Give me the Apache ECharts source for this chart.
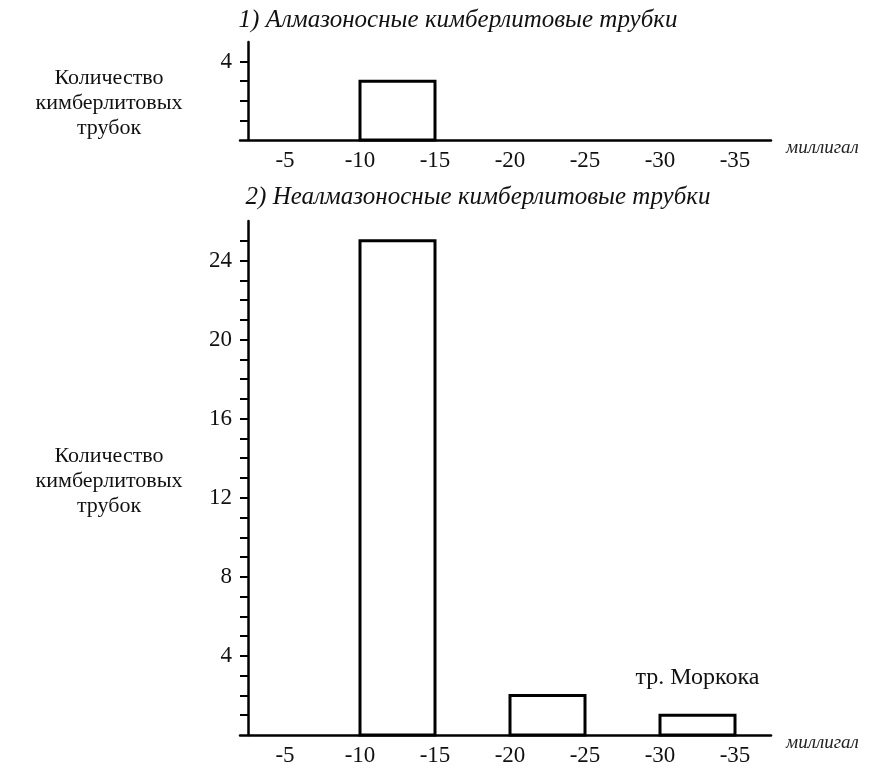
<!DOCTYPE html>
<html>
<head>
<meta charset="utf-8">
<script src="https://cdn.jsdelivr.net/npm/echarts@6/dist/echarts.min.js"></script>
<style>
  html, body { margin: 0; padding: 0; background: #fff; }
  #chart { width: 869px; height: 772px; }
</style>
</head>
<body>
<div id="chart"></div>
<script>
// Gravity anomaly bins (milligal) and pipe counts
const xTickValues = [-5, -10, -15, -20, -25, -30, -35];

const diamondBinStart = [-10];
const diamondBinEnd = [-15];
const diamondCounts = [3];

const barrenBinStart = [-10, -20, -30];
const barrenBinEnd = [-15, -25, -35];
const barrenCounts = [25, 2, 1];
const barrenNotes = ['', '', 'тр. Моркока'];

const topYTicks = [1, 2, 3, 4];
const topYLabels = [4];
const bottomYTicks = Array.from({ length: 25 }, (_, i) => i + 1);
const bottomYLabels = [4, 8, 12, 16, 20, 24];

const titleTop = '1) Алмазоносные кимберлитовые трубки';
const titleBottom = '2) Неалмазоносные кимберлитовые трубки';
const yName = 'Количество\nкимберлитовых\nтрубок';
const xName = 'миллигал';

const serif = '"Liberation Serif", "DejaVu Serif", serif';

function rows(starts, ends, counts, notes) {
  return starts.map((s, i) => [s, ends[i], counts[i], notes ? notes[i] : '']);
}

const barrenRows = rows(barrenBinStart, barrenBinEnd, barrenCounts, barrenNotes);

function renderBin(params, api) {
  const a = api.coord([api.value(0), 0]);
  const b = api.coord([api.value(1), api.value(2)]);
  const x = Math.min(a[0], b[0]);
  const w = Math.abs(b[0] - a[0]);
  const children = [{
    type: 'rect',
    shape: { x: x, y: b[1], width: w, height: a[1] - b[1] },
    style: { fill: '#fff', stroke: '#000', lineWidth: 3 }
  }];
  const note = params.seriesIndex === 1 ? barrenRows[params.dataIndex][3] : '';
  if (note) {
    children.push({
      type: 'text',
      style: {
        text: note, x: x + w / 2, y: b[1] - 38,
        align: 'center', verticalAlign: 'middle',
        font: '24px ' + serif, fill: '#111'
      }
    });
  }
  return { type: 'group', children: children };
}

function xAxisCfg(gridIndex) {
  return {
    type: 'value', gridIndex: gridIndex,
    inverse: true, min: -37.4, max: -2,
    splitLine: { show: false },
    axisLine: { show: true, lineStyle: { color: '#000', width: 2.5 } },
    axisTick: { show: false },
    axisLabel: {
      customValues: xTickValues, margin: 9,
      fontFamily: serif, fontSize: 23, color: '#111'
    },
    name: xName, nameLocation: 'start', nameGap: 15,
    nameTextStyle: {
      fontFamily: serif, fontStyle: 'italic', fontSize: 19,
      color: '#222', verticalAlign: 'top', padding: [-2, 0, 0, 0]
    }
  };
}

function yAxisCfg(gridIndex, max, ticks, labels) {
  return {
    type: 'value', gridIndex: gridIndex, min: 0, max: max,
    offset: -8,
    splitLine: { show: false },
    axisLine: { show: true, lineStyle: { color: '#000', width: 2.5 } },
    axisTick: { show: true, customValues: ticks, length: 8, lineStyle: { color: '#000', width: 2 } },
    axisLabel: {
      customValues: labels, margin: 16,
      fontFamily: serif, fontSize: 23, color: '#111'
    }
  };
}

const chart = echarts.init(document.getElementById('chart'), null, { renderer: 'canvas' });

chart.setOption({
  backgroundColor: '#fff',
  animation: false,
  grid: [
    { left: 240, right: 98, top: 42, height: 98 },
    { left: 240, right: 98, top: 221, height: 514 }
  ],
  xAxis: [xAxisCfg(0), xAxisCfg(1)],
  yAxis: [
    yAxisCfg(0, 5, topYTicks, topYLabels),
    yAxisCfg(1, 26, bottomYTicks, bottomYLabels)
  ],
  graphic: [
    { type: 'text', x: 458, y: 20,
      style: { text: titleTop, align: 'center', verticalAlign: 'middle', font: 'italic 25px ' + serif, fill: '#111' } },
    { type: 'text', x: 478, y: 197,
      style: { text: titleBottom, align: 'center', verticalAlign: 'middle', font: 'italic 25px ' + serif, fill: '#111' } },
    { type: 'text', x: 109, y: 103,
      style: { text: yName, align: 'center', verticalAlign: 'middle', font: '22px ' + serif, lineHeight: 25, fill: '#111' } },
    { type: 'text', x: 109, y: 481,
      style: { text: yName, align: 'center', verticalAlign: 'middle', font: '22px ' + serif, lineHeight: 25, fill: '#111' } }
  ],
  series: [
    {
      type: 'custom', xAxisIndex: 0, yAxisIndex: 0,
      renderItem: renderBin,
      data: rows(diamondBinStart, diamondBinEnd, diamondCounts)
    },
    {
      type: 'custom', xAxisIndex: 1, yAxisIndex: 1,
      renderItem: renderBin,
      data: barrenRows
    }
  ]
});
</script>
</body>
</html>
